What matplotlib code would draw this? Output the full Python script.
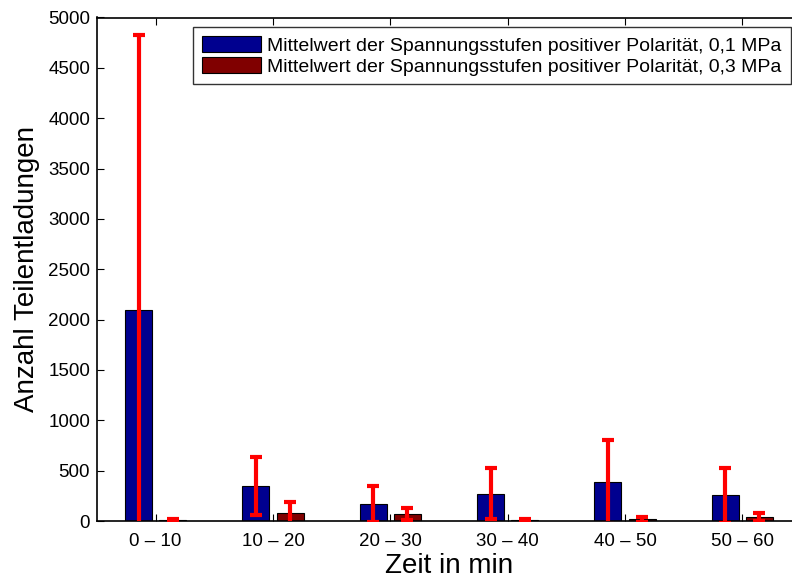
import matplotlib
matplotlib.use("Agg")
import matplotlib.pyplot as plt
import numpy as np

plt.rcParams["font.family"] = ["Liberation Sans", "DejaVu Sans"]

categories = ["0 \u2013 10", "10 \u2013 20", "20 \u2013 30", "30 \u2013 40", "40 \u2013 50", "50 \u2013 60"]
mean_01 = [2100, 345, 169, 273, 388, 256]
err_01 = [2730, 289, 182, 253, 418, 274]
mean_03 = [12, 77, 69, 10, 17, 42]
err_03 = [12, 112, 60, 12, 22, 38]
labels = [
    "Mittelwert der Spannungsstufen positiver Polarit\u00e4t, 0,1 MPa",
    "Mittelwert der Spannungsstufen positiver Polarit\u00e4t, 0,3 MPa",
]

fig = plt.figure(figsize=(7.92, 5.79), dpi=100)
ax = fig.add_axes([97 / 792, 58 / 579, 704 / 792, 503.5 / 579])

x = np.arange(len(categories))
offset = 0.145
width = 0.23
ax.bar(x - offset, mean_01, width=width, color="#00008f", edgecolor="black", linewidth=0.8, label=labels[0], zorder=2)
ax.bar(x + offset, mean_03, width=width, color="#800000", edgecolor="black", linewidth=0.8, label=labels[1], zorder=2)
err_style = dict(fmt="none", ecolor="#ff0000", elinewidth=3, capsize=4.5, capthick=3, zorder=3)
ax.errorbar(x - offset, mean_01, yerr=err_01, **err_style)
ax.errorbar(x + offset, mean_03, yerr=err_03, **err_style)

ax.set_xlim(-0.5, len(categories) - 0.5)
ax.set_ylim(0, 5000)
ax.set_yticks(np.arange(0, 5001, 500))
ax.set_xticks(x)
ax.set_xticklabels(categories)
ax.tick_params(direction="in", length=5, width=0.8, labelsize=13.5, top=True, right=True)
ax.tick_params(axis="x", pad=9)
ax.tick_params(axis="y", pad=5)
for side in ax.spines.values():
    side.set_linewidth(1.2)

ax.set_xlabel("Zeit in min", fontsize=20, labelpad=2)
ax.set_ylabel("Anzahl Teilentladungen", fontsize=20, labelpad=6)

leg = ax.legend(loc="upper right", bbox_to_anchor=(790.5 / 792, 1 - 27 / 579), bbox_transform=fig.transFigure,
                fontsize=14.0, frameon=True, fancybox=False, borderaxespad=0, handlelength=3.0,
                handleheight=0.9, handletextpad=0.35, labelspacing=0.12, borderpad=0.45)
leg.get_frame().set_edgecolor("black")
leg.get_frame().set_linewidth(1.0)

fig.savefig("out.png", dpi=100)
